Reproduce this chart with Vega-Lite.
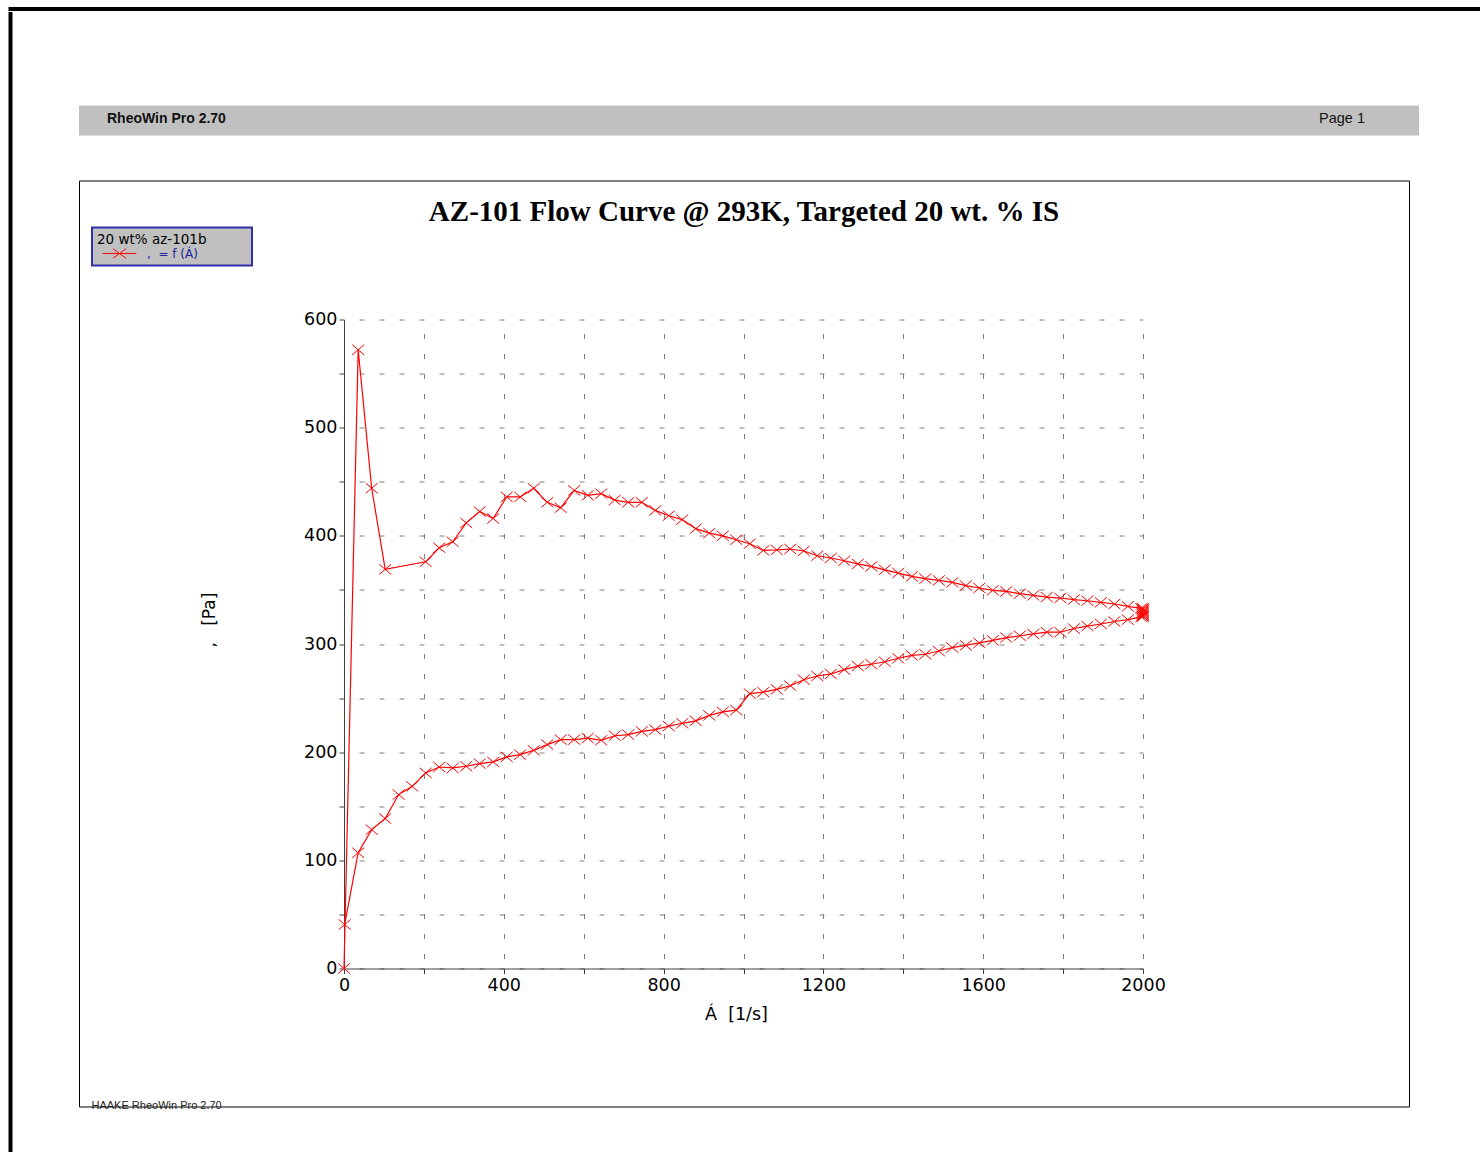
{
  "$schema": "https://vega.github.io/schema/vega-lite/v6.json",
  "background": "white",
  "padding": {"left": 8, "top": 6.5, "right": 0, "bottom": 0},
  "config": {
    "font": "DejaVu Sans",
    "view": {"stroke": null},
    "axis": {"labelColor": "#000000", "titleColor": "#000000", "domainColor": "#404040", "tickColor": "#404040"}
  },
  "spacing": 0,
  "vconcat": [
    {
      "width": 1480, "height": 1,
      "view": {"stroke": "#000000", "strokeWidth": 3, "fill": null},
      "data": {"values": [{}]},
      "mark": {"type": "point", "size": 0, "opacity": 0},
      "encoding": {}
    },
    {
      "spacing": 65,
      "hconcat": [
        {
          "width": 1, "height": 1150,
          "view": {"stroke": "#000000", "strokeWidth": 3, "fill": null},
          "data": {"values": [{}]},
          "mark": {"type": "point", "size": 0, "opacity": 0},
          "encoding": {}
        },
        {
          "spacing": 44,
          "vconcat": [
            {
              "width": 1, "height": 48,
              "data": {"values": [{}]},
              "mark": {"type": "point", "size": 0, "opacity": 0},
              "encoding": {}
            },
            {
              "width": 1340, "height": 30,
              "view": {"fill": "#c0c0c0", "stroke": null},
              "data": {"values": [{"label": "RheoWin Pro 2.70"}, {"label": "Page 1"}]},
              "encoding": {
                "x": {"field": "label", "type": "nominal", "scale": {"type": "point", "domain": ["RheoWin Pro 2.70", "Page 1"], "range": [28, 1240], "padding": 0}, "axis": null},
                "text": {"field": "label"}
              },
              "layer": [
                {"transform": [{"filter": "datum.label !== 'Page 1'"}], "mark": {"type": "text", "align": "left", "baseline": "middle", "dy": -2, "font": "Liberation Sans", "fontSize": 14, "fontWeight": "bold", "color": "#111111"}},
                {"transform": [{"filter": "datum.label === 'Page 1'"}], "mark": {"type": "text", "align": "left", "baseline": "middle", "dy": -2, "font": "Liberation Sans", "fontSize": 14.5, "color": "#111111"}}
              ]
            },
            {
              "width": 1330, "height": 926,
              "view": {"stroke": "#000000", "strokeWidth": 1, "fill": "#ffffff"},
              "title": {"text": "AZ-101 Flow Curve @ 293K, Targeted 20 wt. % IS", "font": "Liberation Serif", "fontSize": 29, "fontWeight": "bold", "color": "#000000", "anchor": "middle", "frame": "group", "offset": -69, "baseline": "alphabetic"},
              "data": {"values": [
                {"rate": 0, "stress": 0},
                {"rate": 35.5, "stress": 572},
                {"rate": 69.3, "stress": 444},
                {"rate": 103.1, "stress": 369},
                {"rate": 204.5, "stress": 376},
                {"rate": 238.3, "stress": 389},
                {"rate": 272.1, "stress": 394.5},
                {"rate": 305.9, "stress": 412},
                {"rate": 339.7, "stress": 422.5},
                {"rate": 373.5, "stress": 416},
                {"rate": 407.3, "stress": 436},
                {"rate": 441.1, "stress": 436},
                {"rate": 474.9, "stress": 444},
                {"rate": 508.7, "stress": 431},
                {"rate": 542.5, "stress": 426},
                {"rate": 576.3, "stress": 442},
                {"rate": 610.1, "stress": 437.5},
                {"rate": 643.9, "stress": 439},
                {"rate": 677.7, "stress": 433},
                {"rate": 711.5, "stress": 431},
                {"rate": 745.3, "stress": 431},
                {"rate": 779.1, "stress": 423.5},
                {"rate": 812.9, "stress": 418.6},
                {"rate": 846.7, "stress": 415},
                {"rate": 880.5, "stress": 406.6},
                {"rate": 914.3, "stress": 402.5},
                {"rate": 948.1, "stress": 400},
                {"rate": 981.9, "stress": 396.4},
                {"rate": 1015.7, "stress": 392.7},
                {"rate": 1049.5, "stress": 386.5},
                {"rate": 1083.3, "stress": 387},
                {"rate": 1117.1, "stress": 387.8},
                {"rate": 1150.9, "stress": 386},
                {"rate": 1184.7, "stress": 381.6},
                {"rate": 1218.5, "stress": 379.5},
                {"rate": 1252.3, "stress": 377},
                {"rate": 1286.1, "stress": 374},
                {"rate": 1319.9, "stress": 371.7},
                {"rate": 1353.7, "stress": 368.6},
                {"rate": 1387.5, "stress": 365.6},
                {"rate": 1421.3, "stress": 362.5},
                {"rate": 1455.1, "stress": 360.4},
                {"rate": 1488.9, "stress": 358.8},
                {"rate": 1522.7, "stress": 357},
                {"rate": 1556.5, "stress": 354},
                {"rate": 1590.3, "stress": 351.8},
                {"rate": 1624.1, "stress": 349.6},
                {"rate": 1657.9, "stress": 348.6},
                {"rate": 1691.7, "stress": 346.5},
                {"rate": 1725.5, "stress": 345},
                {"rate": 1759.3, "stress": 343.4},
                {"rate": 1793.1, "stress": 342.5},
                {"rate": 1826.9, "stress": 341},
                {"rate": 1860.7, "stress": 340},
                {"rate": 1894.5, "stress": 338.5},
                {"rate": 1928.3, "stress": 337},
                {"rate": 1962.1, "stress": 334.8},
                {"rate": 1995.9, "stress": 333},
                {"rate": 2000, "stress": 333},
                {"rate": 1999, "stress": 332},
                {"rate": 2000, "stress": 331},
                {"rate": 1999, "stress": 330},
                {"rate": 2000, "stress": 329},
                {"rate": 1999, "stress": 328},
                {"rate": 2000, "stress": 327},
                {"rate": 1999, "stress": 326},
                {"rate": 2000, "stress": 325.5},
                {"rate": 1995.9, "stress": 325},
                {"rate": 1962.1, "stress": 322.5},
                {"rate": 1928.3, "stress": 320.8},
                {"rate": 1894.5, "stress": 318.5},
                {"rate": 1860.7, "stress": 316.6},
                {"rate": 1826.9, "stress": 314.3},
                {"rate": 1793.1, "stress": 310.9},
                {"rate": 1759.3, "stress": 310.9},
                {"rate": 1725.5, "stress": 309.3},
                {"rate": 1691.7, "stress": 307.6},
                {"rate": 1657.9, "stress": 305.9},
                {"rate": 1624.1, "stress": 303.4},
                {"rate": 1590.3, "stress": 301},
                {"rate": 1556.5, "stress": 298.7},
                {"rate": 1522.7, "stress": 296.7},
                {"rate": 1488.9, "stress": 293.5},
                {"rate": 1455.1, "stress": 290.5},
                {"rate": 1421.3, "stress": 289.5},
                {"rate": 1387.5, "stress": 286.8},
                {"rate": 1353.7, "stress": 283.6},
                {"rate": 1319.9, "stress": 281.3},
                {"rate": 1286.1, "stress": 279.6},
                {"rate": 1252.3, "stress": 276.3},
                {"rate": 1218.5, "stress": 272.3},
                {"rate": 1184.7, "stress": 270.4},
                {"rate": 1150.9, "stress": 267},
                {"rate": 1117.1, "stress": 261.4},
                {"rate": 1083.3, "stress": 258.1},
                {"rate": 1049.5, "stress": 255.5},
                {"rate": 1015.7, "stress": 254.2},
                {"rate": 981.9, "stress": 238.9},
                {"rate": 948.1, "stress": 237.3},
                {"rate": 914.3, "stress": 234},
                {"rate": 880.5, "stress": 229},
                {"rate": 846.7, "stress": 226.7},
                {"rate": 812.9, "stress": 224.1},
                {"rate": 779.1, "stress": 220.8},
                {"rate": 745.3, "stress": 219.2},
                {"rate": 711.5, "stress": 216.2},
                {"rate": 677.7, "stress": 215.2},
                {"rate": 643.9, "stress": 211},
                {"rate": 610.1, "stress": 213},
                {"rate": 576.3, "stress": 211.6},
                {"rate": 542.5, "stress": 211.6},
                {"rate": 508.7, "stress": 207},
                {"rate": 474.9, "stress": 201.7},
                {"rate": 441.1, "stress": 197.7},
                {"rate": 407.3, "stress": 195.6},
                {"rate": 373.5, "stress": 191},
                {"rate": 339.7, "stress": 189.4},
                {"rate": 305.9, "stress": 187},
                {"rate": 272.1, "stress": 185.4},
                {"rate": 238.3, "stress": 186.3},
                {"rate": 204.5, "stress": 180.8},
                {"rate": 170.7, "stress": 168.4},
                {"rate": 136.9, "stress": 160.8},
                {"rate": 103.1, "stress": 138.6},
                {"rate": 69.3, "stress": 128.4},
                {"rate": 35.5, "stress": 107},
                {"rate": 1.7, "stress": 40.7}
              ]},
              "encoding": {
                "y": {
                  "field": "stress", "type": "quantitative",
                  "scale": {"domain": [0, 600], "range": [788, 139], "nice": false, "zero": false},
                  "axis": {
                    "offset": -265,
                    "values": [0, 50, 100, 150, 200, 250, 300, 350, 400, 450, 500, 550, 600],
                    "format": "d",
                    "labelExpr": "datum.value % 100 === 0 ? datum.label : ''",
                    "grid": true, "gridColor": "#808080", "gridDash": [5, 15], "gridDashOffset": 5, "gridWidth": 1,
                    "tickSize": 5, "labelFontSize": 17.5, "labelPadding": 2, "labelFont": "DejaVu Sans", "labelOverlap": false,
                    "title": ",\u00a0\u00a0\u00a0[Pa]", "titleFont": "DejaVu Sans", "titleFontSize": 17, "titleFontWeight": "normal",
                    "titleX": -130, "titleY": 439, "titleBaseline": "alphabetic", "titleAlign": "center"
                  }
                },
                "color": {
                  "datum": ",\u00a0\u00a0= f (Á)", "type": "nominal",
                  "scale": {"range": ["#ff0000"]},
                  "legend": {
                    "orient": "none", "legendX": 82, "legendY": 219,
                    "title": "20 wt% az-101b",
                    "titleFont": "DejaVu Sans", "titleFontSize": 13.5, "titleFontWeight": "normal", "titleColor": "#000000", "titlePadding": 1,
                    "labelFont": "DejaVu Sans", "labelFontSize": 12, "labelColor": "#2020a0", "labelLimit": 400,
                    "fillColor": "#c0c0c0", "strokeColor": "#3030a8", "padding": 5,
                    "symbolType": "M-2.8,0H2.8M-1.1,-0.8L1.1,0.8M1.1,-0.8L-1.1,0.8M20.8,0", "symbolSize": 144,
                    "symbolStrokeWidth": 1, "symbolStrokeColor": "#ff0000", "symbolFillColor": "transparent",
                    "symbolOffset": 16, "labelOffset": 21,
                    "encode": {"legend": {"update": {"strokeWidth": {"value": 2}}}}
                  }
                },
                "order": {"value": null}
              },
              "layer": [
                {
                  "mark": {"type": "line", "strokeWidth": 1.2},
                  "encoding": {
                    "x": {
                      "field": "rate", "type": "quantitative",
                      "scale": {"domain": [0, 2000], "range": [265, 1064], "nice": false, "zero": false},
                      "axis": {
                        "orient": "bottom", "offset": -138,
                        "values": [0, 200, 400, 600, 800, 1000, 1200, 1400, 1600, 1800, 2000],
                        "format": "d",
                        "labelExpr": "datum.value % 400 === 0 ? datum.label : ''",
                        "grid": true, "gridColor": "#808080", "gridDash": [5, 15], "gridDashOffset": 5, "gridWidth": 1,
                        "tickSize": 5, "labelFontSize": 17.5, "labelPadding": 3, "labelFont": "DejaVu Sans", "labelFlush": false, "labelOverlap": false,
                        "title": "Á\u00a0\u00a0[1/s]", "titleFont": "DejaVu Sans", "titleFontSize": 17.5, "titleFontWeight": "normal",
                        "titleX": 657, "titleY": 46, "titleBaseline": "middle", "titleAlign": "center"
                      }
                    }
                  }
                },
                {
                  "mark": {"type": "point", "shape": "M-1,-0.85L1,0.85M1,-0.85L-1,0.85", "size": 144, "filled": false, "strokeWidth": 1, "opacity": 1},
                  "encoding": {
                    "x": {
                      "field": "rate", "type": "quantitative",
                      "scale": {"domain": [0, 2000], "range": [265, 1064], "nice": false, "zero": false},
                      "axis": {
                        "orient": "bottom", "offset": 0,
                        "domain": false, "ticks": false, "labels": false, "grid": false,
                        "title": "HAAKE RheoWin Pro 2.70", "titleFont": "Liberation Sans", "titleFontSize": 11, "titleFontWeight": "normal", "titleColor": "#222222",
                        "titleX": 12, "titleY": 2, "titleAlign": "left", "titleBaseline": "alphabetic"
                      }
                    }
                  }
                }
              ],
              "resolve": {"axis": {"x": "independent"}}
            }
          ]
        }
      ]
    }
  ]
}
